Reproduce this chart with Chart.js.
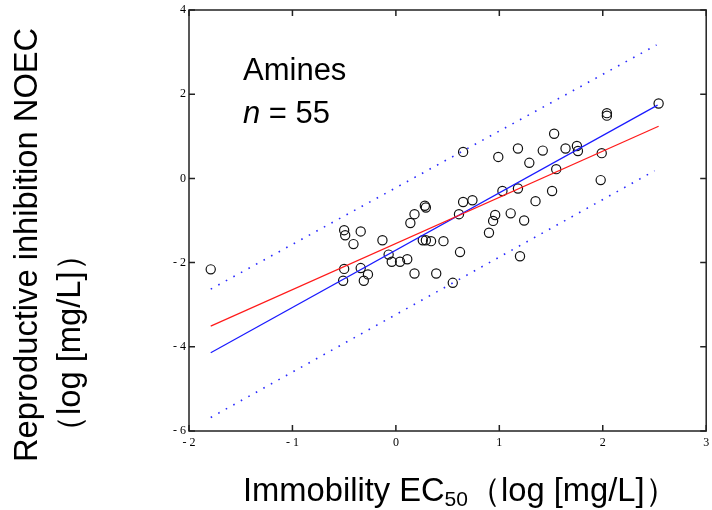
<!DOCTYPE html>
<html>
<head>
<meta charset="utf-8">
<script src="https://cdn.jsdelivr.net/npm/chart.js@4/dist/chart.umd.min.js"></script>
<style>
  body { margin: 0; background: #fff; }
  #wrap { position: relative; width: 712px; height: 510px; }
  #chart { position: absolute; left: 0; top: 0; }
  .lbl { position: absolute; white-space: nowrap; font-family: "Liberation Sans", Arial, sans-serif; color: #000; line-height: 32px; font-size: 32.7px; }
  .rot { transform-origin: 0 0; transform: rotate(-90deg); }
</style>
</head>
<body>
<div id="wrap">
  <canvas id="chart" width="712" height="510"></canvas>
  <div class="lbl" style="left:243px; top:54px; font-size:31px; line-height:31px;">Amines</div>
  <div class="lbl" style="left:243px; top:97px; font-size:31px; line-height:31px;"><i>n</i> = 55</div>
  <div class="lbl" style="left:243px; top:474px;">Immobility EC<span style="font-size:21px; position:relative; top:5px;">50</span>（log [mg/L]）</div>
  <div class="lbl rot" style="left:10px; top:462px;">Reproductive inhibition NOEC</div>
  <div class="lbl rot" style="left:53px; top:448px;">（log [mg/L]）</div>
</div>
<script>
// immobility EC50 (x) vs reproductive NOEC (y), log mg/L
const ec50 = [
  -1.79, -0.50, -0.49, -0.34, -0.41, -0.13, -0.50, -0.34, -0.51, -0.31,
  -0.27, -0.07, -0.04, 0.04, 0.11, 0.18, 0.39, 0.55, 0.14, 0.18,
  0.28, 0.29, 0.26, 0.29, 0.34, 0.46, 0.62, 0.61, 0.65, 0.74,
  1.03, 1.18, 1.51, 1.35, 0.96, 0.94, 0.90, 1.11, 1.24, 1.20,
  0.65, 0.99, 1.18, 1.29, 1.42, 1.53, 1.64, 1.75, 1.76, 1.55,
  1.99, 1.98, 2.04, 2.04, 2.54
];
const noec = [
  -2.16, -1.23, -1.35, -1.26, -1.56, -1.47, -2.15, -2.13, -2.43, -2.43,
  -2.28, -1.81, -1.98, -1.98, -1.92, -2.26, -2.26, -2.48, -1.06, -0.85,
  -0.65, -0.69, -1.47, -1.47, -1.49, -1.49, -1.75, -0.85, -0.56, -0.52,
  -0.30, -0.24, -0.30, -0.54, -0.87, -1.01, -1.29, -0.83, -1.00, -1.85,
  0.63, 0.51, 0.71, 0.37, 0.66, 1.06, 0.71, 0.77, 0.65, 0.22,
  0.60, -0.04, 1.55, 1.49, 1.78
];

// fitted lines (end points)
const redLineX = [-1.79, 2.54];
const redLineY = [-3.51, 1.24];
const blueLineX = [-1.79, 2.53];
const blueLineY = [-4.14, 1.74];
const upperLineX = [-1.79, 2.52];
const upperLineY = [-2.63, 3.17];
const lowerLineX = [-1.79, 2.50];
const lowerLineY = [-5.68, 0.18];

const xTicks = [-2, -1, 0, 1, 2, 3];
const yTicks = [-6, -4, -2, 0, 2, 4];

const pts = (xs, ys) => xs.map((v, i) => ({ x: v, y: ys[i] }));
const tickText = v => v < 0 ? '- ' + Math.abs(v) : String(v);

function lineSet(xs, ys, color, dash) {
  return {
    type: 'line',
    data: pts(xs, ys),
    borderColor: color,
    borderWidth: dash ? 1.6 : 1.2,
    borderDash: dash || [],
    pointRadius: 0,
    fill: false,
    tension: 0
  };
}

// box round the plot with inward ticks on all four sides
const frameTicks = {
  id: 'frameTicks',
  afterDraw(chart) {
    const { ctx, chartArea: a, scales: { x, y } } = chart;
    ctx.save();
    ctx.strokeStyle = '#222';
    ctx.lineWidth = 1.5;
    ctx.strokeRect(a.left, a.top, a.right - a.left, a.bottom - a.top);
    ctx.beginPath();
    xTicks.forEach(v => {
      const px = x.getPixelForValue(v);
      ctx.moveTo(px, a.bottom); ctx.lineTo(px, a.bottom - 6);
      ctx.moveTo(px, a.top); ctx.lineTo(px, a.top + 6);
    });
    yTicks.forEach(v => {
      const py = y.getPixelForValue(v);
      ctx.moveTo(a.left, py); ctx.lineTo(a.left + 6, py);
      ctx.moveTo(a.right, py); ctx.lineTo(a.right - 6, py);
    });
    ctx.stroke();
    ctx.restore();
  }
};

const tickFont = { family: '"Liberation Serif", "Times New Roman", serif', size: 12 };

new Chart(document.getElementById('chart'), {
  type: 'scatter',
  data: {
    datasets: [
      lineSet(upperLineX, upperLineY, '#2a2aff', [1.6, 7]),
      lineSet(lowerLineX, lowerLineY, '#2a2aff', [1.6, 7]),
      lineSet(redLineX, redLineY, '#ff1a1a'),
      lineSet(blueLineX, blueLineY, '#1a1aff'),
      {
        data: pts(ec50, noec),
        pointStyle: 'circle',
        pointRadius: 4.6,
        pointBorderWidth: 1.2,
        pointBorderColor: '#111',
        pointBackgroundColor: 'rgba(0,0,0,0)',
        showLine: false
      }
    ]
  },
  options: {
    responsive: false,
    animation: false,
    layout: { padding: { left: 0, right: 3, top: 10, bottom: 0 } },
    plugins: {
      legend: { display: false },
      tooltip: { enabled: false }
    },
    scales: {
      x: {
        type: 'linear',
        min: -2, max: 3,
        grid: { display: false, drawTicks: false },
        border: { display: false },
        afterBuildTicks: s => { s.ticks = xTicks.map(v => ({ value: v })); },
        ticks: { callback: tickText, color: '#000', font: tickFont, padding: 5, maxRotation: 0 },
        afterFit: s => { s.height = 79; s.paddingLeft = 0; s.paddingRight = 0; }
      },
      y: {
        type: 'linear',
        min: -6, max: 4,
        grid: { display: false, drawTicks: false },
        border: { display: false },
        afterBuildTicks: s => { s.ticks = yTicks.map(v => ({ value: v })); },
        ticks: { callback: tickText, color: '#000', font: tickFont, padding: 3 },
        afterFit: s => { s.width = 189; s.paddingTop = 0; s.paddingBottom = 0; }
      }
    }
  },
  plugins: [frameTicks]
});
</script>
</body>
</html>
